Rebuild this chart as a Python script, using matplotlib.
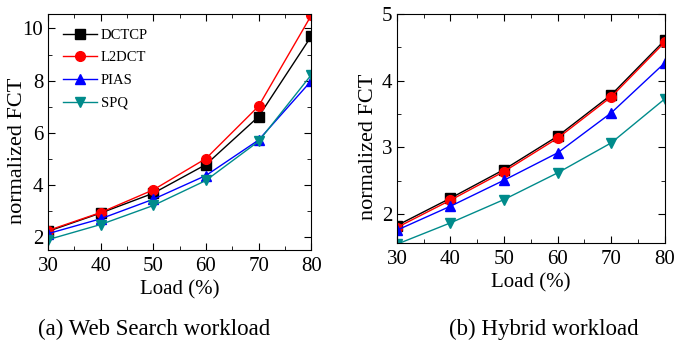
import numpy as np
import matplotlib.pyplot as plt
from matplotlib.ticker import MultipleLocator

plt.rcParams['font.family'] = ['Liberation Serif', 'DejaVu Serif']

load = [30, 40, 50, 60, 70, 80]
names = ["DCTCP", "L2DCT", "PIAS", "SPQ"]

# (a) web search workload
web_dctcp = [2.22, 2.92, 3.68, 4.78, 6.62, 9.70]
web_l2dct = [2.25, 2.94, 3.81, 5.01, 7.02, 10.50]
web_pias = [2.13, 2.70, 3.45, 4.36, 5.72, 7.99]
web_spq = [1.90, 2.48, 3.21, 4.17, 5.67, 8.22]

# (b) hybrid workload
hyb_dctcp = [1.83, 2.24, 2.67, 3.17, 3.79, 4.61]
hyb_l2dct = [1.80, 2.21, 2.64, 3.14, 3.76, 4.58]
hyb_pias = [1.76, 2.12, 2.51, 2.92, 3.52, 4.27]
hyb_spq = [1.55, 1.87, 2.22, 2.62, 3.07, 3.73]

colors = ["black", "red", "blue", "#008b8b"]
markers = ["s", "o", "^", "v"]

fig = plt.figure(figsize=(6.75, 3.44), dpi=100)
ax1 = fig.add_axes([0.0711, 0.273, 0.390, 0.686])
ax2 = fig.add_axes([0.588, 0.294, 0.397, 0.665])

def draw(ax, series):
    for ys, c, m, n in zip(series, colors, markers, names):
        ax.plot(load, ys, color=c, marker=m, markersize=7, lw=1, label=n)
    ax.set_xlim(30, 80)
    ax.xaxis.set_major_locator(MultipleLocator(10))
    ax.xaxis.set_minor_locator(MultipleLocator(5))
    ax.tick_params(which='both', direction='in', top=True, right=True, labelsize=15)
    ax.tick_params(axis='x', pad=5)
    ax.tick_params(which='major', length=5)
    ax.tick_params(which='minor', length=3)
    ax.set_xlabel("Load (%)", fontsize=15, labelpad=3)
    ax.set_ylabel("normalized FCT", fontsize=16)

draw(ax1, [web_dctcp, web_l2dct, web_pias, web_spq])
ax1.set_ylim(1.5, 10.55)
ax1.yaxis.set_major_locator(MultipleLocator(2))
ax1.yaxis.set_minor_locator(MultipleLocator(1))
ax1.yaxis.set_label_coords(-0.08, 0.42)
ax1.legend(loc='upper left', frameon=False, fontsize=10.5, handlelength=2.3,
           handletextpad=0.3, labelspacing=0.65, borderaxespad=0, borderpad=0,
           bbox_to_anchor=(0.057, 0.939))

draw(ax2, [hyb_dctcp, hyb_l2dct, hyb_pias, hyb_spq])
ax2.set_ylim(1.57, 5.0)
ax2.yaxis.set_major_locator(MultipleLocator(1))
ax2.yaxis.set_minor_locator(MultipleLocator(0.5))
ax2.yaxis.set_label_coords(-0.071, 0.42)

fig.text(0.229, 0.025, "(a) Web Search workload", ha='center', va='baseline', fontsize=16.5)
fig.text(0.806, 0.025, "(b) Hybrid workload", ha='center', va='baseline', fontsize=16.5)

fig.savefig("out.png", dpi=100)
